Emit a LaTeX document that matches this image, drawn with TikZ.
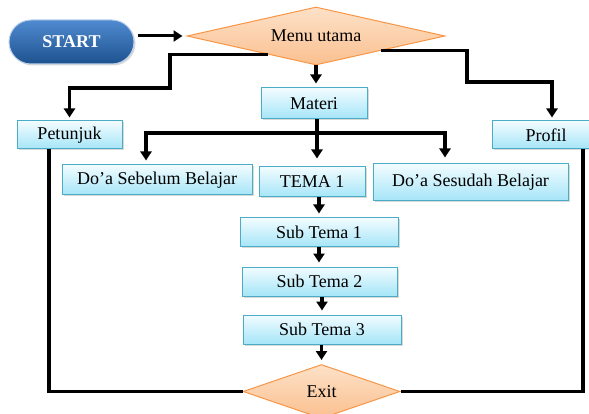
\documentclass[tikz,border=0pt]{standalone}
\usepackage{fontspec}
\setmainfont{Liberation Serif}
\usetikzlibrary{calc,positioning,arrows.meta,shapes.geometric,shadows}

\definecolor{boxline}{HTML}{4BACC6}
\definecolor{boxtop}{HTML}{F2FCFF}
\definecolor{boxbot}{HTML}{A5E5F8}
\definecolor{dmline}{HTML}{F79646}
\definecolor{dmtop}{HTML}{FDE1C8}
\definecolor{dmbot}{HTML}{FAC08F}
\definecolor{starttop}{HTML}{4F8AD0}
\definecolor{startbot}{HTML}{1E528F}

\tikzset{
  menubox/.style={draw=boxline, line width=1pt, top color=boxtop,
    bottom color=boxbot, inner sep=0pt, font=\fontsize{18}{21}\selectfont,
    drop shadow={shadow xshift=1.5pt, shadow yshift=-1.5pt, opacity=0.3}},
  decide/.style={diamond, draw=dmline, line width=1pt, top color=dmtop,
    bottom color=dmbot, inner sep=0pt, aspect=4,
    font=\fontsize{18}{21}\selectfont},
  startnode/.style={rectangle, rounded corners=22pt, draw=starttop!40,
    line width=1pt, top color=starttop, bottom color=startbot,
    text=white, font=\bfseries\fontsize{18}{21}\selectfont,
    minimum width=125pt, minimum height=44pt,
    drop shadow={shadow xshift=1.5pt, shadow yshift=-1.5pt, opacity=0.3}},
  flow/.style={line width=3.5pt},
  flowarr/.style={flow, -{Triangle[length=9pt,width=11pt]}, shorten >=4pt},
}

\begin{document}
\begin{tikzpicture}[x=1pt,y=-1pt]
\useasboundingbox (0,0) rectangle (589,414);
% nodes
\node[startnode] (start) at (71.5,42) {START};
\node[decide, minimum width=258pt, minimum height=58pt] (menu) at (316,36) {Menu utama};
\node[menubox, minimum width=106pt, minimum height=31pt] (materi) at (314,103.5) {Materi};
\node[menubox, minimum width=105pt, minimum height=28pt] (petunjuk) at (69.5,135) {Petunjuk};
\node[menubox, minimum width=108pt, minimum height=28pt] (profil) at (546,135) {Profil};
\node[menubox, minimum width=190pt, minimum height=30pt] (sebelum) at (157,180) {Do’a Sebelum Belajar};
\node[menubox, minimum width=106pt, minimum height=30pt] (tema) at (312,182) {TEMA 1};
\node[menubox, minimum width=195pt, minimum height=37pt] (sesudah) at (470.5,182.5) {Do’a Sesudah Belajar};
\node[menubox, minimum width=158pt, minimum height=29pt] (sub1) at (319,232.5) {Sub Tema 1};
\node[menubox, minimum width=155pt, minimum height=29pt] (sub2) at (319.5,281.5) {Sub Tema 2};
\node[menubox, minimum width=158pt, minimum height=29pt] (sub3) at (322,329.5) {Sub Tema 3};
\node[decide, minimum width=157pt, minimum height=54pt] (exit) at (321.5,391.5) {Exit};
% bends
\coordinate (ml) at ($(menu.west)!0.63!(menu.south)$);
\coordinate (mr) at ($(menu.south)!0.5!(menu.east)$);
\coordinate (lbend) at (170,88);
\coordinate (rbend) at (467,82);
\coordinate (jm) at (317,133);
\coordinate (jl) at (146,133);
\coordinate (jr) at (445,133);
\coordinate (lx) at (49,0);
\coordinate (rx) at (583,0);
% connectors
\draw[flowarr, line width=3pt, shorten <=3pt] (start.east |- menu.west) -- (menu.west);
\draw[flowarr, shorten >=3pt] (ml) -| (lbend) -| (petunjuk.north);
\draw[flowarr, shorten >=3pt] (mr) -| (rbend) -| ([xshift=6pt]profil.north);
\draw[flowarr] (menu.south) -- (menu.south |- materi.north);
\draw[flowarr, shorten >=8pt] (materi.south -| jm) -- (tema.north -| jm);
\draw[flowarr] (jm) -| (sebelum.north -| jl);
\draw[flowarr, shorten >=6pt] (jm) -| (sesudah.north -| jr);
\draw[flowarr] (sub1.north |- tema.south) -- (sub1.north);
\draw[flowarr] (sub1.south) -- (sub1.south |- sub2.north);
\draw[flowarr] (sub2.south -| sub3.north) -- (sub3.north);
\draw[flowarr] (sub3.south -| exit.north) -- (exit.north);
\draw[flow] (petunjuk.south -| lx) |- (exit.west);
\draw[flow] (profil.south -| rx) |- (exit.east);
\end{tikzpicture}
\end{document}
